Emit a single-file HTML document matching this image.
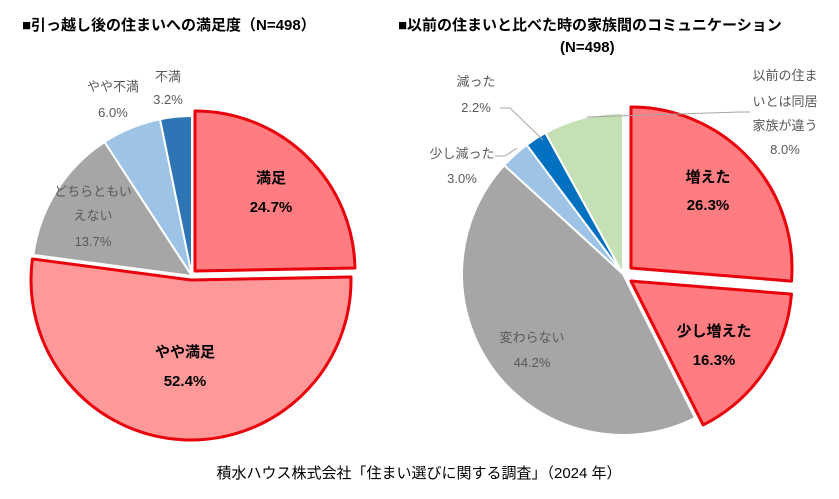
<!DOCTYPE html>
<html><head><meta charset="utf-8"><style>
body{margin:0;background:#fff;width:839px;height:494px;overflow:hidden}
svg text{font-family:"Liberation Sans","Noto Sans CJK JP",sans-serif}
</style></head><body>
<svg id="s" width="839" height="494" xmlns="http://www.w3.org/2000/svg">
<g id="g"></g>
<text x="22" y="30" font-size="15" font-weight="bold" fill="#000">■引っ越し後の住まいへの満足度（N=498）</text>
<text x="398" y="30" font-size="15" font-weight="bold" fill="#000">■以前の住まいと比べた時の家族間のコミュニケーション</text>
<text x="560" y="52" font-size="15" font-weight="bold" fill="#000">(N=498)</text>
<g font-size="13" fill="#595959" text-anchor="middle">
<text x="168" y="81">不満</text><text x="168" y="104">3.2%</text>
<text x="113" y="91">やや不満</text><text x="113" y="117">6.0%</text>
<text x="93" y="196">どちらともい</text><text x="93" y="220">えない</text><text x="93" y="246">13.7%</text>
<text x="476" y="86">減った</text><text x="476" y="112">2.2%</text>
<text x="462" y="158">少し減った</text><text x="462" y="183">3.0%</text>
<text x="785" y="80">以前の住ま</text><text x="785" y="106">いとは同居</text><text x="785" y="130">家族が違う</text><text x="785" y="154">8.0%</text>
<text x="532" y="342">変わらない</text><text x="532" y="367">44.2%</text>
</g>
<g font-size="15" font-weight="bold" fill="#000" text-anchor="middle">
<text x="271" y="183">満足</text><text x="271" y="212">24.7%</text>
<text x="185" y="357">やや満足</text><text x="185" y="386">52.4%</text>
<text x="708" y="182">増えた</text><text x="708" y="210">26.3%</text>
<text x="714" y="336">少し増えた</text><text x="714" y="365">16.3%</text>
</g>
<g stroke="#a6a6a6" fill="none" stroke-width="1">
<polyline points="500,108 510,108 543,140"/>
<polyline points="495,156 505,156 517,148"/>
<polyline points="587,117 740,112 750,112"/>
</g>
<text x="419" y="478" font-size="15" fill="#000" text-anchor="middle">積水ハウス株式会社「住まい選びに関する調査」（2024 年）</text>
</svg>
<script>
var g=document.getElementById('g');
function sl(cx,cy,r,a0,a1,fill,red){
 function p(a){a=a*Math.PI/180;return [cx+r*Math.sin(a),cy-r*Math.cos(a)];}
 var s=p(a0),e=p(a1),l=(a1-a0)>180?1:0;
 var d='M'+cx+','+cy+'L'+s[0]+','+s[1]+'A'+r+','+r+' 0 '+l+' 1 '+e[0]+','+e[1]+'Z';
 var el=document.createElementNS('http://www.w3.org/2000/svg','path');
 el.setAttribute('d',d);el.setAttribute('fill',fill);
 el.setAttribute('stroke',red?'#e8000b':'#fff');el.setAttribute('stroke-width',red?3:2);
 el.setAttribute('stroke-linejoin','round');
 g.appendChild(el);
}
var L=[24.7,52.4,13.7,6.0,3.2].map(function(v){return v*3.6});
var cols=['#ff7c80','#ff9999','#a6a6a6','#9dc3e6','#2e75b6'];
var cs=[[195,271],[191,280],[192,276],[192,276],[192,276]];
[2,3,4,0,1].forEach(function(i){
 var st=0;for(var k=0;k<i;k++)st+=L[k];
 sl(cs[i][0],cs[i][1],160,st,st+L[i],cols[i],i<2);
});
var R=[26.3,16.3,44.2,3.0,2.2,8.0].map(function(v){return v*3.6});
var rc=['#ff7c80','#ff7c80','#a6a6a6','#9dc3e6','#0070c0','#c5e0b4'];
var rcs=[[631,268],[631,281],[623,274],[623,274],[623,274],[623,274]];
[2,3,4,5,0,1].forEach(function(i){
 var st=0;for(var k=0;k<i;k++)st+=R[k];
 sl(rcs[i][0],rcs[i][1],161,st,st+R[i],rc[i],i<2);
});
</script>
</body></html>
